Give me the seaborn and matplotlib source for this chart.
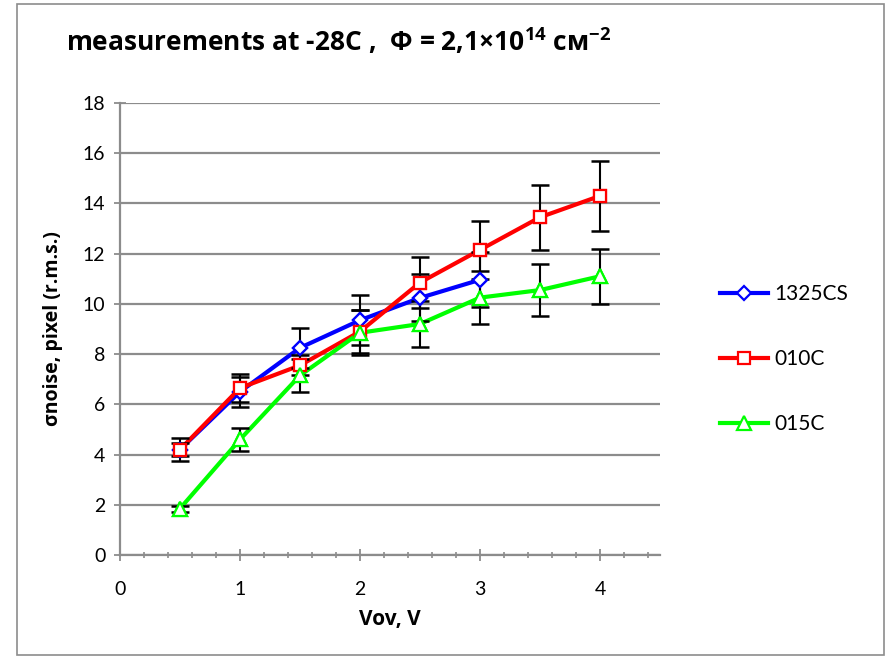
import numpy as np
import pandas as pd
import matplotlib
matplotlib.use("Agg")
import matplotlib.pyplot as plt
import seaborn as sns
from matplotlib.patches import Rectangle
from matplotlib.ticker import MultipleLocator

# ---- data ----
x_1325 = [0.5, 1.0, 1.5, 2.0, 2.5, 3.0]
y_1325 = [4.2, 6.5, 8.25, 9.35, 10.24, 10.96]
e_1325 = [0.47, 0.6, 0.8, 1.0, 0.94, 1.1]

x_010 = [0.5, 1.0, 1.5, 2.0, 2.5, 3.0, 3.5, 4.0]
y_010 = [4.2, 6.65, 7.55, 8.9, 10.85, 12.15, 13.45, 14.3]
e_010 = [0.25, 0.55, 0.4, 0.85, 1.03, 1.17, 1.3, 1.38]

x_015 = [0.5, 1.0, 1.5, 2.0, 2.5, 3.0, 3.5, 4.0]
y_015 = [1.85, 4.6, 7.15, 8.85, 9.2, 10.25, 10.55, 11.1]
e_015 = [0.12, 0.44, 0.65, 0.9, 0.9, 1.06, 1.05, 1.1]

series_names = ["1325CS", "010C", "015C"]
colors = ["#0000FF", "#FF0000", "#00FF00"]
markers = ["D", "s", "^"]
msizes = [7.5, 9, 10]

title_text = r"measurements at -28C ,  Φ = 2,1×10$^{\mathbf{14}}$ cм$^{\mathbf{-2}}$"
xlabel_text = "Vov, V"
ylabel_text = "σnoise, pixel (r.m.s.)"

plt.rcParams['mathtext.fontset'] = 'custom'
plt.rcParams['mathtext.rm'] = 'Open Sans'
plt.rcParams['mathtext.bf'] = 'Open Sans:bold'
plt.rcParams['font.family'] = ['Lato', 'DejaVu Sans']

fig = plt.figure(figsize=(8.9, 6.58), dpi=100)
ax = fig.add_axes([120/890, 1-555/658, 540/890, 452/658])

data = [(x_1325, y_1325, e_1325), (x_010, y_010, e_010), (x_015, y_015, e_015)]
for (xs, ys, es), name, c, m, ms in zip(data, series_names, colors, markers, msizes):
    df = pd.DataFrame({"x": xs, "y": ys})
    sns.lineplot(data=df, x="x", y="y", ax=ax, color=c, lw=3, marker=m,
                 markersize=ms, mfc="white", mec=c, mew=1.6, label=name,
                 zorder=3)
for (xs, ys, es) in data:
    ax.errorbar(xs, ys, yerr=es, fmt="none", ecolor="black", elinewidth=1.5,
                capsize=6.5, capthick=1.8, zorder=4)
# re-draw markers on top of error bars
for (xs, ys, es), c, m, ms in zip(data, colors, markers, msizes):
    ax.plot(xs, ys, ls="none", marker=m, markersize=ms, mfc="white", mec=c,
            mew=1.6, zorder=5)

ax.set_xlim(0, 4.5)
ax.set_ylim(0, 18)
ax.xaxis.set_major_locator(MultipleLocator(1))
ax.xaxis.set_minor_locator(MultipleLocator(0.2))
ax.yaxis.set_major_locator(MultipleLocator(2))
ax.grid(axis="y", color="#8c8c8c", lw=1.6)
ax.set_axisbelow(True)
for s in ["top", "right"]:
    ax.spines[s].set_visible(False)
for s in ["left", "bottom"]:
    ax.spines[s].set_color("#8c8c8c")
    ax.spines[s].set_linewidth(1.6)
ax.tick_params(axis="both", which="major", direction="inout", length=9,
               color="#8c8c8c", width=1.3, labelsize=14, pad=6)
ax.tick_params(axis="x", which="major", pad=14)
ax.tick_params(axis="x", which="minor", direction="inout", length=5,
               color="#8c8c8c", width=1.2)
ax.set_xlabel(xlabel_text, fontsize=15, fontweight="bold", labelpad=8,
              family=["Open Sans", "DejaVu Sans"])
ax.set_ylabel(ylabel_text, fontsize=14, fontweight="bold", labelpad=14,
              family=["Open Sans", "DejaVu Sans"])

leg = ax.legend(loc="center left", bbox_to_anchor=(701/890, 1-359/658),
                bbox_transform=fig.transFigure, frameon=False,
                prop={"size": 15, "family": ["Lato", "DejaVu Sans"]},
                handlelength=2.3, labelspacing=2.15, handletextpad=0.3)

fig.text(66/890, 1-42/658, title_text, fontsize=19, fontweight="bold",
         ha="left", va="center", family=["Open Sans", "DejaVu Sans"])

fig.patches.append(Rectangle((17/890, 3/658), 867/890, 651/658,
                             transform=fig.transFigure, fill=False,
                             edgecolor="#8c8c8c", lw=1.2))

fig.savefig("out.png", dpi=100)
